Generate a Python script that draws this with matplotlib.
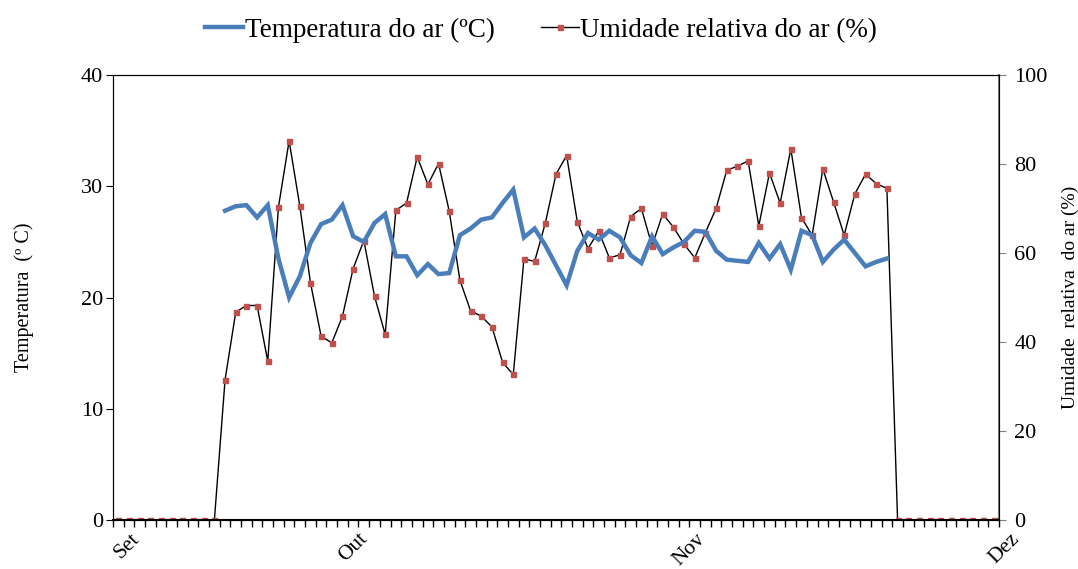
import matplotlib.pyplot as plt
import matplotlib.transforms as mtransforms
import numpy as np

plt.rcParams['font.family'] = ['Liberation Serif', 'DejaVu Serif']

# umidade relativa do ar (%), uma leitura por categoria
umidade = [0, 0, 0, 0, 0, 0, 0, 0, 0, 0,
           31.5, 46.7, 48.2, 48.2, 35.7, 70.3, 85.2, 70.6, 53.3, 41.3,
           39.8, 45.8, 56.5, 62.8, 50.3, 41.7, 69.6, 71.2, 81.6, 75.4,
           80.1, 69.4, 53.9, 47.0, 45.8, 43.4, 35.4, 32.7, 58.7, 58.1,
           66.7, 77.7, 81.9, 67.0, 61.0, 64.9, 58.9, 59.6, 68.2, 70.0,
           61.6, 68.8, 65.8, 62.0, 58.9, 64.6, 70.0, 78.6, 79.5, 80.7,
           66.1, 78.0, 71.2, 83.4, 67.9, 64.0, 78.9, 71.5, 64.0, 73.3,
           77.7, 75.6, 74.5,
           0, 0, 0, 0, 0, 0, 0, 0, 0, 0]

# temperatura do ar (ºC), sem leitura nas pontas
temperatura = [None, None, None, None, None, None, None, None, None, None,
               27.8, 28.2, 28.3, 27.2, 28.3, 23.5, 20.0, 21.9, 24.9, 26.6,
               27.0, 28.3, 25.5, 25.0, 26.7, 27.5, 23.7, 23.7, 22.0, 23.0,
               22.1, 22.2, 25.6, 26.2, 27.0, 27.2, 28.5, 29.7, 25.4, 26.2,
               24.7, 22.9, 21.1, 24.2, 25.8, 25.2, 26.0, 25.4, 23.8, 23.1,
               25.5, 23.9, 24.5, 25.0, 26.0, 25.9, 24.2, 23.4, 23.3, 23.2,
               24.9, 23.5, 24.8, 22.5, 26.0, 25.6, 23.2, 24.3, 25.2, 24.0,
               22.8, 23.2, 23.5,
               None, None, None, None, None, None, None, None, None, None]

meses = ['Set', 'Out', 'Nov', 'Dez']
pos_meses = [0, 21.3, 53.0, 82.4]

x = np.arange(len(umidade))
temp = np.array([np.nan if v is None else v for v in temperatura], dtype=float)

fig = plt.figure(figsize=(10.78, 5.69), dpi=100)
ax = fig.add_axes([0.1048, 0.0861, 0.8219, 0.7821])
ax2 = ax.twinx()

l1, = ax.plot(x, temp, color='#4A7EBB', lw=3.2, solid_joinstyle='miter',
              label='Temperatura do ar (ºC)', zorder=3)
l2, = ax2.plot(x, umidade, color='black', lw=1.0, marker='s', markersize=3.6,
               markerfacecolor='#C0504D', markeredgecolor='#C0504D',
               label='Umidade relativa do ar (%)')

ax.set_xlim(-0.5, len(umidade) - 0.5)
ax.set_ylim(0, 40)
ax2.set_ylim(0, 100)
ax.set_yticks([0, 10, 20, 30, 40])
ax2.set_yticks([0, 20, 40, 60, 80, 100])

ax.set_xticks(np.arange(-0.5, len(umidade), 1), minor=True)
ax.set_xticks(pos_meses)
ax.set_xticklabels(meses, fontsize=15.5, rotation=45, ha='right', va='top',
                   rotation_mode='anchor')
ax.tick_params(axis='x', which='major', length=0, pad=7)
ax.tick_params(axis='x', which='minor', length=5, width=1, direction='out')
offset = mtransforms.ScaledTranslation(0.12, 0, fig.dpi_scale_trans)
for lab in ax.get_xticklabels():
    lab.set_transform(lab.get_transform() + offset)

ax.tick_params(axis='y', labelsize=16, length=5, direction='out', pad=2)
ax2.tick_params(axis='y', labelsize=16, length=5, direction='out', pad=6,
                colors='#808080', labelcolor='black')

for s in ['left', 'top', 'bottom']:
    ax.spines[s].set_color('black')
ax.spines['bottom'].set_linewidth(1.5)
ax2.spines['right'].set_color('#808080')
ax2.spines['right'].set_linewidth(1.5)

ax.set_ylabel('Temperatura  (º C)', fontsize=14.5, labelpad=34)
ax2.set_ylabel('Umidade  relativa  do ar (%)', fontsize=14, labelpad=10)

ax.set_zorder(ax2.get_zorder() + 1)
ax.patch.set_visible(False)

fig.legend([l1, l2], [l1.get_label(), l2.get_label()], loc='upper center',
           bbox_to_anchor=(0.502, 1.012), ncol=2, frameon=False, fontsize=19.5,
           handlelength=1.4, handletextpad=0.05, columnspacing=1.7)

fig.savefig('out.png', dpi=100)
